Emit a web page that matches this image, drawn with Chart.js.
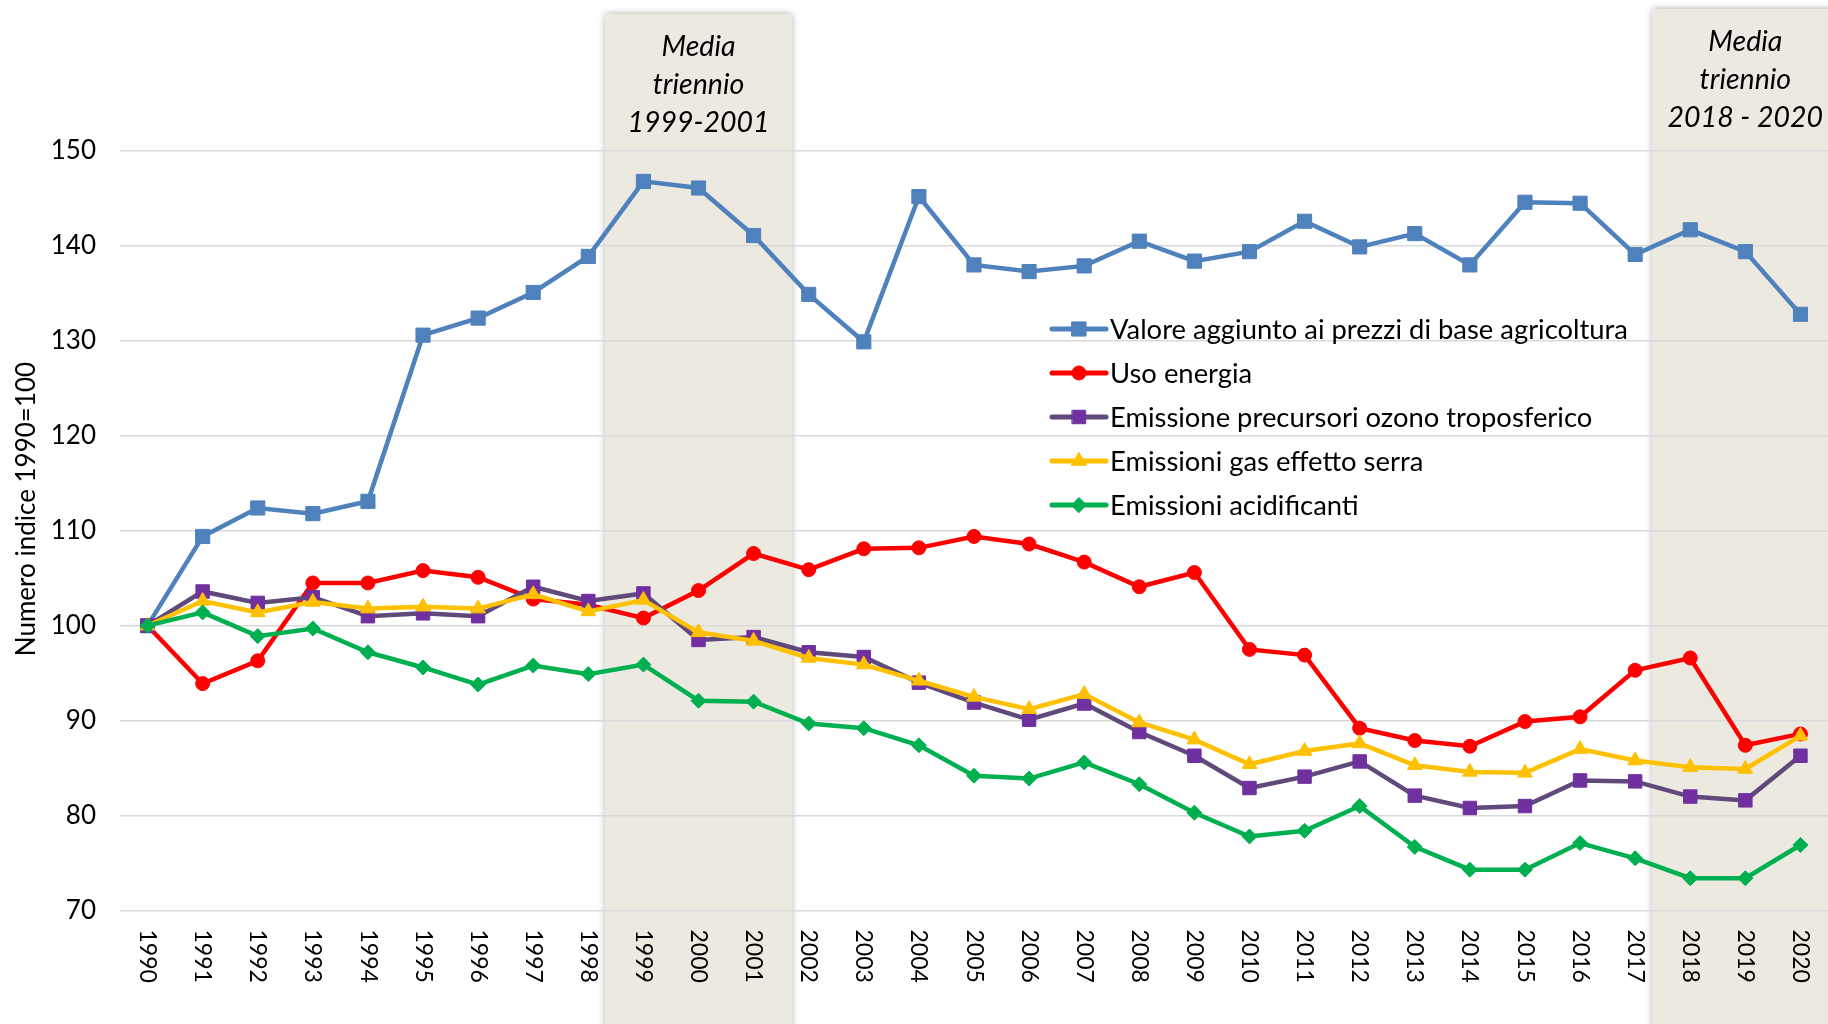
<!DOCTYPE html>
<html>
<head>
<meta charset="utf-8">
<title>Numero indice 1990=100</title>
<script src="https://cdn.jsdelivr.net/npm/chart.js@4/dist/chart.umd.min.js"></script>
<style>
  html, body { margin: 0; padding: 0; background: #fff; }
  #wrap { width: 1828px; height: 1024px; }
</style>
</head>
<body>
<div id="wrap"><canvas id="chart" width="1828" height="1024"></canvas></div>
<script>
'use strict';

var years = ['1990','1991','1992','1993','1994','1995','1996','1997','1998','1999',
  '2000','2001','2002','2003','2004','2005','2006','2007','2008','2009',
  '2010','2011','2012','2013','2014','2015','2016','2017','2018','2019','2020'];

var seriesNames = [
  'Valore aggiunto ai prezzi di base agricoltura',
  'Uso energia',
  'Emissione precursori ozono troposferico',
  'Emissioni gas effetto serra',
  'Emissioni acidificanti'];

var valoreAggiunto = [100, 109.4, 112.4, 111.8, 113.1, 130.6, 132.4, 135.1, 138.9, 146.8,
  146.1, 141.1, 134.9, 129.9, 145.2, 138.0, 137.3, 137.9, 140.5, 138.4,
  139.4, 142.6, 139.9, 141.3, 138.0, 144.6, 144.5, 139.1, 141.7, 139.4, 132.8];

var usoEnergia = [100, 93.9, 96.3, 104.5, 104.5, 105.8, 105.1, 102.8, 102.2, 100.8,
  103.7, 107.6, 105.9, 108.1, 108.2, 109.4, 108.6, 106.7, 104.1, 105.6,
  97.5, 96.9, 89.2, 87.9, 87.3, 89.9, 90.4, 95.3, 96.6, 87.4, 88.6];

var precursoriOzono = [100, 103.6, 102.4, 103.0, 101.0, 101.3, 101.0, 104.1, 102.6, 103.4,
  98.5, 98.8, 97.2, 96.7, 94.0, 91.9, 90.1, 91.8, 88.8, 86.3,
  82.9, 84.1, 85.7, 82.1, 80.8, 81.0, 83.7, 83.6, 82.0, 81.6, 86.3];

var gasSerra = [100, 102.6, 101.4, 102.5, 101.8, 102.0, 101.8, 103.3, 101.5, 102.7,
  99.3, 98.4, 96.6, 95.9, 94.2, 92.5, 91.2, 92.8, 89.8, 88.0,
  85.4, 86.8, 87.6, 85.3, 84.6, 84.5, 87.0, 85.8, 85.1, 84.9, 88.4];

var acidificanti = [100, 101.4, 98.9, 99.7, 97.2, 95.6, 93.8, 95.8, 94.9, 95.9,
  92.1, 92.0, 89.7, 89.2, 87.4, 84.2, 83.9, 85.6, 83.3, 80.3,
  77.8, 78.4, 81.0, 76.7, 74.3, 74.3, 77.1, 75.5, 73.4, 73.4, 76.9];

var yMin = 70;
var yMax = 150;
var yStep = 10;
var yTitle = 'Numero indice 1990=100';

// shaded three-year periods
var periodStart = ['1999', '2018'];
var periodEnd = ['2001', '2020'];
var periodText = [['Media', 'triennio', '1999-2001'], ['Media', 'triennio', '2018 - 2020']];

var FONT = 'Lato, "Open Sans", sans-serif';

function makeDataset(label, data, line, fill, style, radius, order) {
  return {
    label: label,
    data: data,
    borderColor: line,
    backgroundColor: fill,
    borderWidth: 4.5,
    pointStyle: style,
    pointRadius: radius,
    pointBackgroundColor: fill,
    pointBorderColor: fill,
    pointBorderWidth: 1,
    tension: 0,
    order: order
  };
}

var datasets = [
  makeDataset(seriesNames[0], valoreAggiunto, '#4F81BD', '#4F81BD', 'rect', 10, 5),
  makeDataset(seriesNames[1], usoEnergia, '#FF0000', '#FF0000', 'circle', 7, 4),
  makeDataset(seriesNames[2], precursoriOzono, '#604A7B', '#7030A0', 'rect', 9.5, 3),
  makeDataset(seriesNames[3], gasSerra, '#FFC000', '#FFC000', 'triangle', 8.5, 2),
  makeDataset(seriesNames[4], acidificanti, '#00B050', '#00B050', 'rectRot', 7.5, 1)
];

var periodBoxes = {
  id: 'periodBoxes',
  beforeDraw: function (chart) {
    var ctx = chart.ctx;
    var x = chart.scales.x;
    var band = x.getPixelForValue(1) - x.getPixelForValue(0);
    for (var i = 0; i < periodStart.length; i++) {
      var left = x.getPixelForValue(years.indexOf(periodStart[i])) - band * 0.7;
      var right = x.getPixelForValue(years.indexOf(periodEnd[i])) + band * 0.7;
      var top = i === 0 ? 14 : 9;
      ctx.save();
      ctx.shadowColor = 'rgba(0,0,0,0.35)';
      ctx.shadowBlur = 7;
      ctx.fillStyle = '#ECE9E0';
      ctx.fillRect(left, top, right - left, chart.height + 20 - top);
      ctx.restore();

      ctx.save();
      ctx.fillStyle = '#000';
      ctx.font = 'italic 28.5px ' + FONT;
      ctx.textAlign = 'center';
      ctx.textBaseline = 'middle';
      var cx = (left + right) / 2;
      for (var j = 0; j < periodText[i].length; j++) {
        ctx.fillText(periodText[i][j], cx, top + 33 + j * 38);
      }
      ctx.restore();
    }
  }
};

var extraText = {
  id: 'extraText',
  afterDraw: function (chart) {
    var ctx = chart.ctx;
    var x = chart.scales.x;
    var area = chart.chartArea;

    // rotated year labels, reading top to bottom
    ctx.save();
    ctx.fillStyle = '#000';
    ctx.font = '23px ' + FONT;
    ctx.textAlign = 'left';
    ctx.textBaseline = 'middle';
    for (var i = 0; i < years.length; i++) {
      ctx.save();
      ctx.translate(x.getPixelForValue(i), area.bottom + 19);
      ctx.rotate(Math.PI / 2);
      ctx.fillText(years[i], 0, 0);
      ctx.restore();
    }
    ctx.restore();

    // y axis title
    ctx.save();
    ctx.fillStyle = '#000';
    ctx.font = '26px ' + FONT;
    ctx.textAlign = 'center';
    ctx.textBaseline = 'middle';
    ctx.translate(27, 509);
    ctx.rotate(-Math.PI / 2);
    ctx.fillText(yTitle, 0, 0);
    ctx.restore();
  }
};

var innerLegend = {
  id: 'innerLegend',
  afterDatasetsDraw: function (chart) {
    var ctx = chart.ctx;
    var sets = chart.data.datasets;
    var x0 = 1052;
    var x1 = 1106;
    var y = 329;
    for (var i = 0; i < sets.length; i++) {
      var ds = sets[i];
      ctx.save();
      ctx.strokeStyle = ds.borderColor;
      ctx.lineWidth = ds.borderWidth + 0.5;
      ctx.lineCap = 'round';
      ctx.beginPath();
      ctx.moveTo(x0, y);
      ctx.lineTo(x1, y);
      ctx.stroke();
      ctx.fillStyle = ds.pointBackgroundColor;
      ctx.strokeStyle = ds.pointBorderColor;
      ctx.lineWidth = 1;
      Chart.helpers.drawPoint(ctx, {
        pointStyle: ds.pointStyle,
        radius: ds.pointRadius,
        rotation: 0,
        borderWidth: 1
      }, (x0 + x1) / 2, y);
      ctx.fillStyle = '#000';
      ctx.font = '27.4px ' + FONT;
      ctx.textAlign = 'left';
      ctx.textBaseline = 'middle';
      ctx.fillText(ds.label, x1 + 4, y + 1);
      ctx.restore();
      y += 44;
    }
  }
};

var ctx = document.getElementById('chart').getContext('2d');

var chart = new Chart(ctx, {
  type: 'line',
  data: {
    labels: years,
    datasets: datasets
  },
  options: {
    responsive: false,
    animation: false,
    devicePixelRatio: 1,
    layout: { autoPadding: false, padding: { top: 151, left: 0, right: 0, bottom: 0 } },
    plugins: {
      legend: { display: false },
      tooltip: { enabled: false }
    },
    scales: {
      x: {
        type: 'category',
        offset: true,
        grid: { display: false },
        border: { display: false },
        ticks: { display: false },
        afterFit: function (scale) { scale.height = 113.5; }
      },
      y: {
        min: yMin,
        max: yMax,
        ticks: {
          stepSize: yStep,
          color: '#000',
          padding: 24,
          font: { family: FONT, size: 26 }
        },
        grid: { color: '#D9D9D9', lineWidth: 1.5, drawTicks: false },
        border: { display: false },
        afterFit: function (scale) { scale.width = 120; }
      }
    }
  },
  plugins: [periodBoxes, extraText, innerLegend]
});
</script>
</body>
</html>
